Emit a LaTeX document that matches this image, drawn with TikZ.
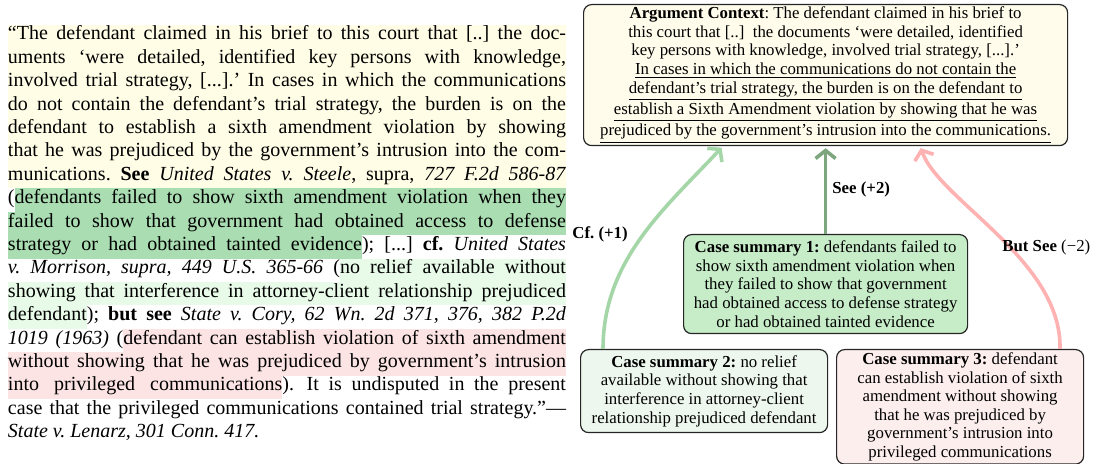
\documentclass[tikz,border=0pt]{standalone}
\usepackage{fontspec}
\setmainfont{Liberation Serif}
\usetikzlibrary{arrows.meta,calc}
\frenchspacing
\definecolor{hlY}{HTML}{FFFDE6}
\definecolor{hlG}{HTML}{AADEB2}
\definecolor{hlL}{HTML}{E8FAE8}
\definecolor{hlP}{HTML}{FDE4E4}
\definecolor{argF}{HTML}{FFFCEB}
\definecolor{csOne}{HTML}{C6ECC8}
\definecolor{csTwo}{HTML}{EEF7EE}
\definecolor{csThree}{HTML}{FDEEEE}
\definecolor{arSee}{HTML}{7EA67E}
\definecolor{arCf}{HTML}{A5D6A7}
\definecolor{arBut}{HTML}{FFB2B2}
\tikzset{
  qline/.style={anchor=base west, inner sep=0pt, outer sep=0pt, font=\fontsize{10}{11.7}\selectfont, text height=7.7pt, text depth=4pt},
  qnext/.style={qline},
  box/.style={draw=black!85, line width=0.6pt, rounded corners=4pt, align=center, font=\fontsize{8.4}{9.3}\selectfont, inner sep=0pt, anchor=north west},
  lbl/.style={anchor=base west, inner sep=0pt, font=\fontsize{8.4}{9.3}\selectfont},
  arr/.style={line width=1.8pt, -{Straight Barb[length=4pt,width=10pt]}, shorten >=1pt}
}
\begin{document}
\begin{tikzpicture}[x=0.5pt,y=-0.5pt]
\useasboundingbox (0,0) rectangle (1094,464);
% left quotation, one node per line
\node[qline, fill=hlY] (l1) at (8,40.0) {\makebox[279pt][s]{“The defendant claimed in his brief to this court that [..] the doc-}};
\node[qline, fill=hlY] (l2) at (8,63.4) {\makebox[279pt][s]{uments ‘were detailed, identified key persons with knowledge,}};
\node[qline, fill=hlY] (l3) at (8,86.8) {\makebox[279pt][s]{involved trial strategy, [...].’ In cases in which the communications}};
\node[qline, fill=hlY] (l4) at (8,110.2) {\makebox[279pt][s]{do not contain the defendant’s trial strategy, the burden is on the}};
\node[qline, fill=hlY] (l5) at (8,133.6) {\makebox[279pt][s]{defendant to establish a sixth amendment violation by showing}};
\node[qline, fill=hlY] (l6) at (8,157.0) {\makebox[279pt][s]{that he was prejudiced by the government’s intrusion into the com-}};
\node[qline, fill=hlY] (l7) at (8,180.4) {\makebox[279pt][s]{munications. \textbf{See} \textit{United States v. Steele}, supra, \textit{727 F.2d 586-87}}};
\node[qline] (l8a) at (8,203.8) {(};
\node[qnext, fill=hlG] (l8b) at (l8a.base east) {\makebox[275.67pt][s]{defendants failed to show sixth amendment violation when they}};
\node[qline, fill=hlG] (l9) at (8,227.2) {\makebox[279pt][s]{failed to show that government had obtained access to defense}};
\node[qline, fill=hlG] (l10a) at (8,250.6) {\makebox[177pt][s]{strategy or had obtained tainted evidence}};
\node[qnext] (l10b) at (l10a.base east) {\makebox[102pt][s]{); [...] \textbf{cf.} \textit{United States}}};
\node[qline] (l11a) at (8,274.0) {\makebox[166pt][s]{\textit{v. Morrison, supra, 449 U.S. 365-66} (}};
\node[qnext, fill=hlL] (l11b) at (l11a.base east) {\makebox[113pt][s]{no relief available without}};
\node[qline, fill=hlL] (l12) at (8,297.4) {\makebox[279pt][s]{showing that interference in attorney-client relationship prejudiced}};
\node[qline, fill=hlL] (l13a) at (8,320.8) {\makebox[39.43pt][s]{defendant}};
\node[qnext] (l13b) at (l13a.base east) {\makebox[239.57pt][s]{); \textbf{but see} \textit{State v. Cory, 62 Wn. 2d 371, 376, 382 P.2d}}};
\node[qline] (l14a) at (8,344.2) {\makebox[57.7pt][s]{\textit{1019 (1963)} (}};
\node[qnext, fill=hlP] (l14b) at (l14a.base east) {\makebox[221.3pt][s]{defendant can establish violation of sixth amendment}};
\node[qline, fill=hlP] (l15) at (8,367.6) {\makebox[279pt][s]{without showing that he was prejudiced by government’s intrusion}};
\node[qline, fill=hlP] (l16a) at (8,391.0) {\makebox[137.2pt][s]{into privileged communications}};
\node[qnext] (l16b) at (l16a.base east) {\makebox[141.8pt][s]{).\hspace{1.5pt} It is undisputed in the present}};
\node[qline] (l17) at (8,414.4) {\makebox[279pt][s]{case that the privileged communications contained trial strategy.”—}};
\node[qline] (l18) at (8,437.8) {\textit{State v. Lenarz, 301 Conn. 417.}};
% right diagram
\node[box, fill=argF, minimum width=242pt, minimum height=70.5pt] (arg) at (583,4) {%
\textbf{Argument Context}: The defendant claimed in his brief to\\
this court that [..]\ \ the documents ‘were detailed, identified\\
key persons with knowledge, involved trial strategy, [...].’\\
\underline{In cases in which the communications do not contain the}\\
\underline{defendant’s trial strategy, the burden is on the defendant to}\\
\underline{establish a Sixth Amendment violation by showing that he was}\\
\underline{prejudiced by the government’s intrusion into the communications.}};
\node[box, fill=csOne, minimum width=142pt, minimum height=49.5pt] (cs1) at (683,234) {%
\textbf{Case summary 1:} defendants failed to\\
show sixth amendment violation when\\
they failed to show that government\\
had obtained access to defense strategy\\
or had obtained tainted evidence};
\node[box, fill=csTwo, minimum width=123.5pt, minimum height=41.5pt] (cs2) at (580,349) {%
\textbf{Case summary 2:} no relief\\
available without showing that\\
interference in attorney-client\\
relationship prejudiced defendant};
\node[box, fill=csThree, minimum width=123.5pt, minimum height=57.25pt] (cs3) at (836,349) {%
\textbf{Case summary 3:} defendant\\
can establish violation of sixth\\
amendment without showing\\
that he was prejudiced by\\
government’s intrusion into\\
privileged communications};
% connectors
\draw[arr, arSee] (cs1.north) -- (arg.south);
\draw[arr, arCf] ($(cs2.north west)+(23,0)$) .. controls +(0,-89) and +(-58,62) .. ($(arg.south west)+(140,0)$);
\draw[arr, arBut] ($(cs3.north west)+(224,0)$) .. controls +(2,-89) and +(20,55) .. ($(arg.south west)+(337,0)$);
% labels
\node[lbl] (lsee) at (832,194) {\textbf{See (+2)}};
\node[lbl] (lcf) at (572,239) {\textbf{Cf. (+1)}};
\node[lbl] (lbut) at (1002,252) {\textbf{But See} (−2)};
\end{tikzpicture}
\end{document}
